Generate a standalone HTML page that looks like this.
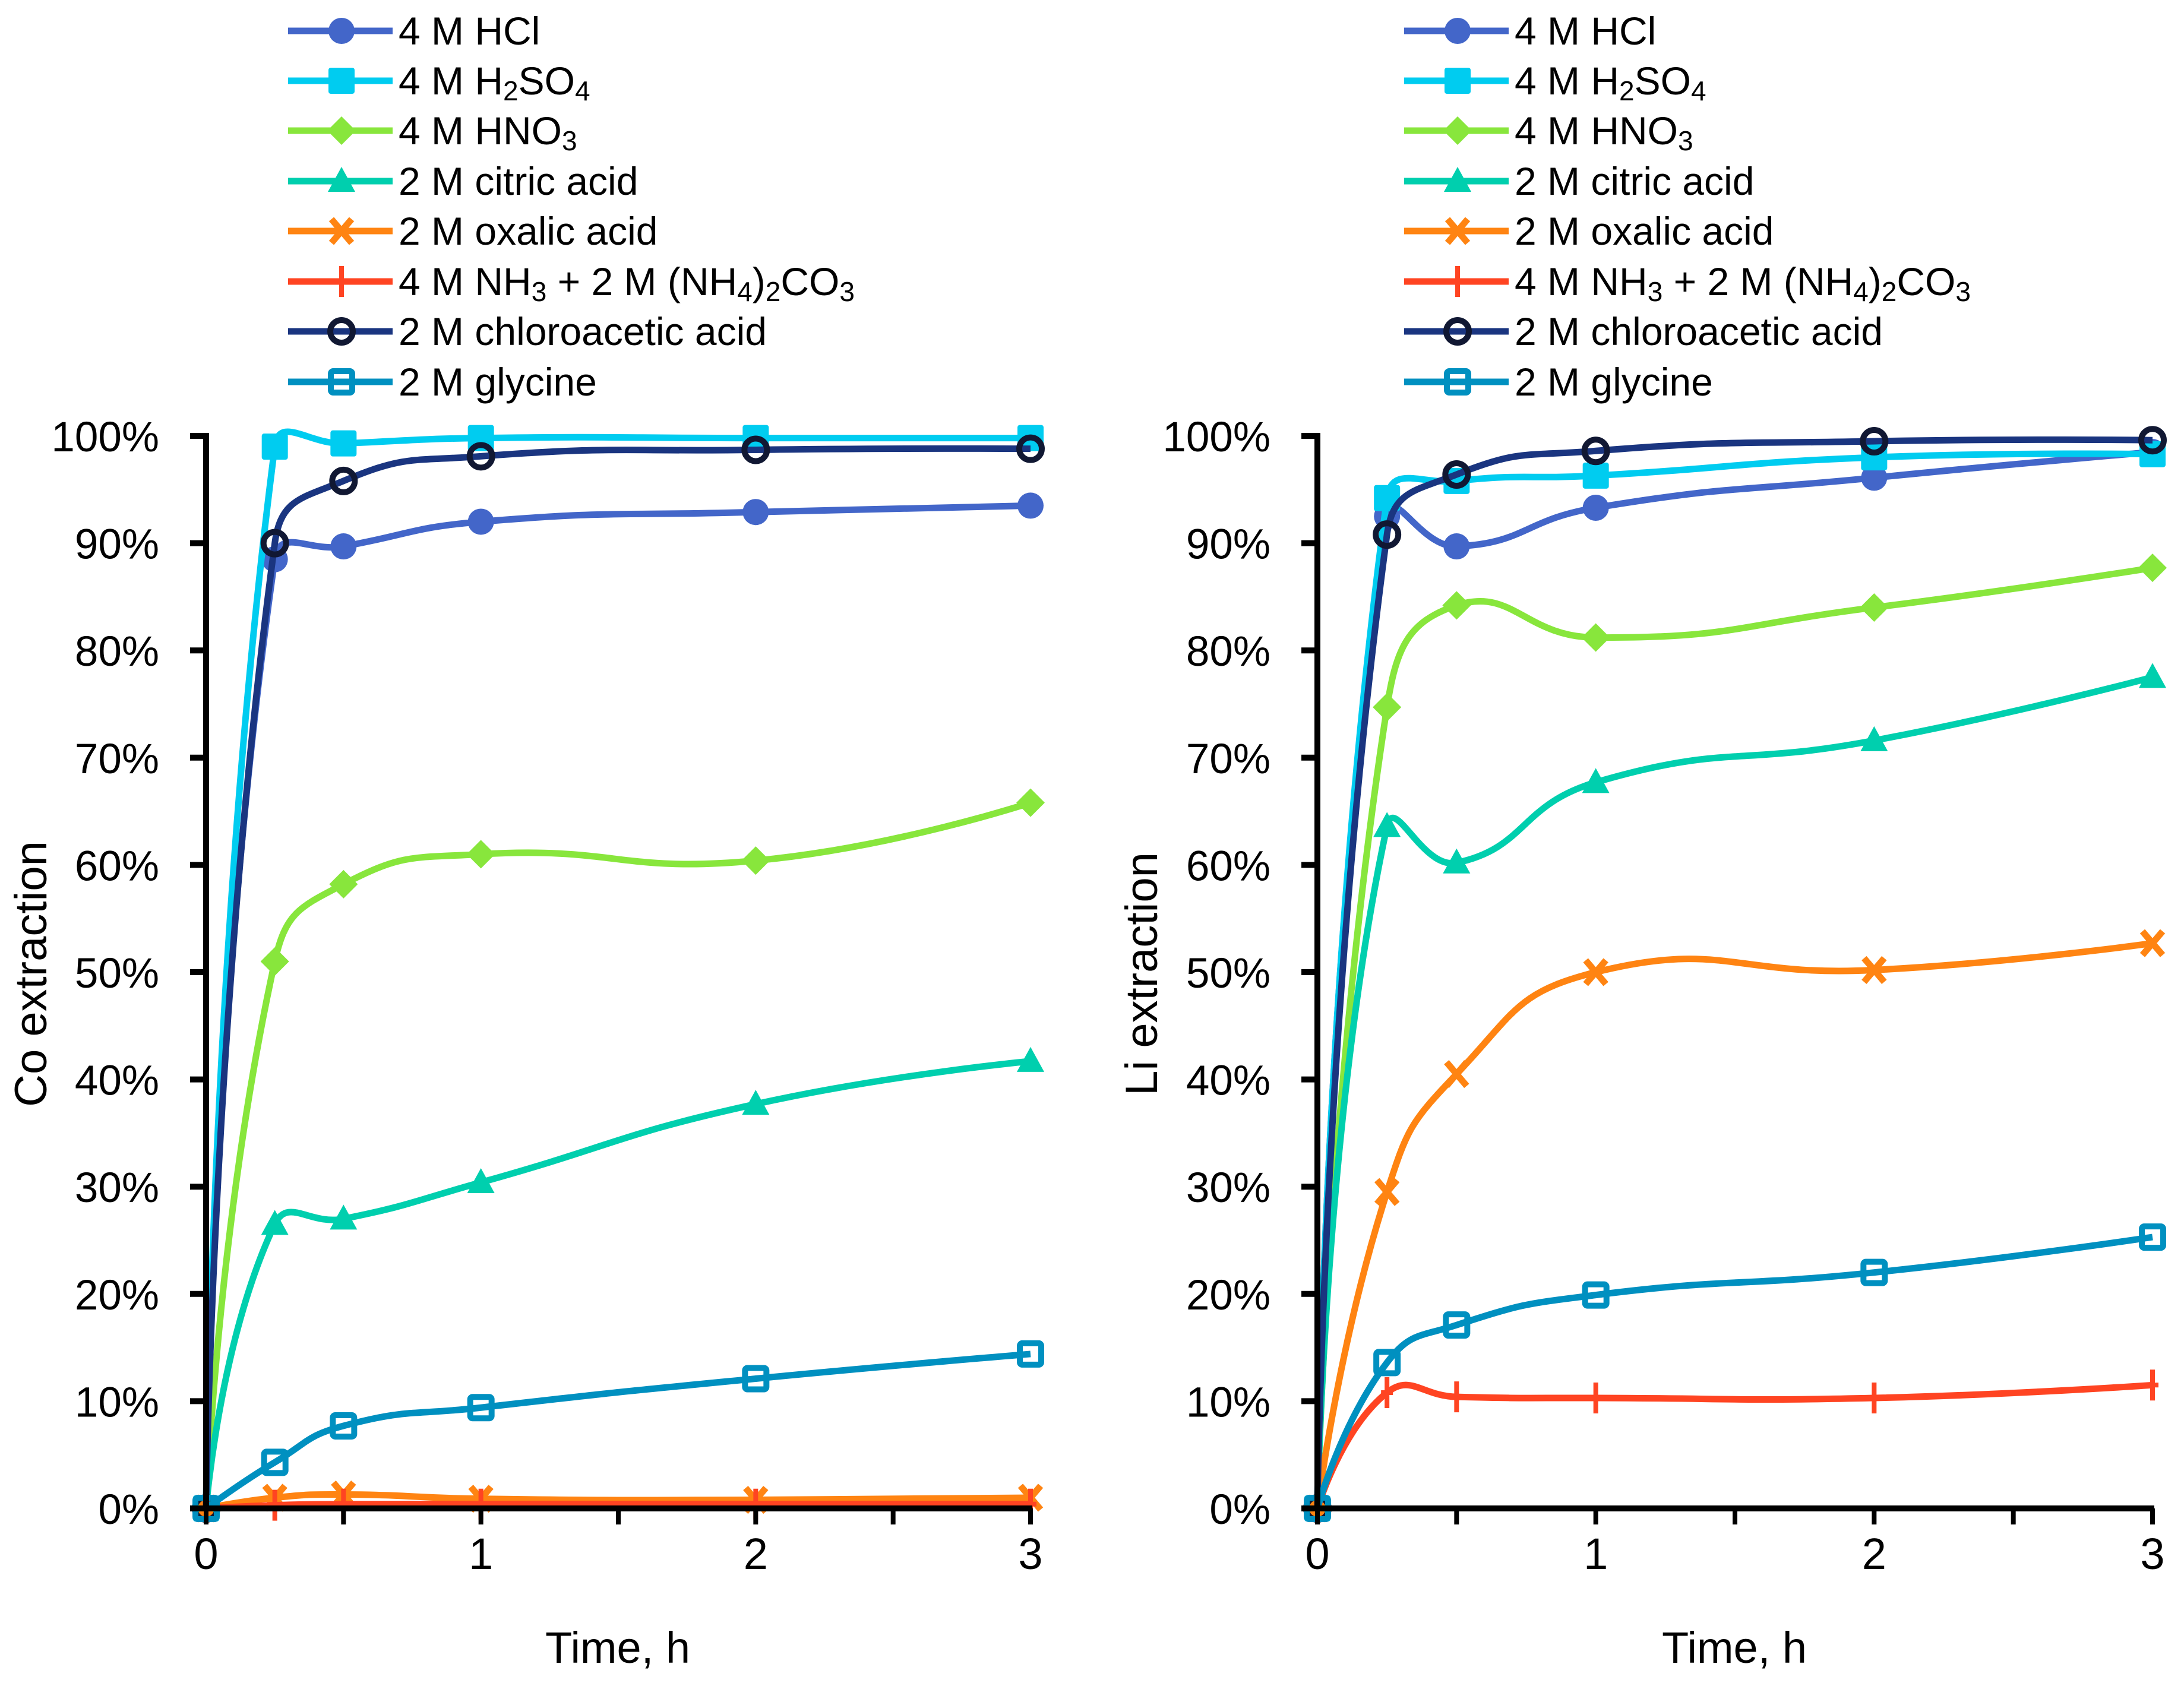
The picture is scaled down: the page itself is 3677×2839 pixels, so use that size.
<!DOCTYPE html>
<html><head><meta charset="utf-8"><style>
html,body{margin:0;padding:0;background:#fff;}
svg{display:block;font-family:"Liberation Sans",sans-serif;}
</style></head><body>
<svg id="chart" width="3677" height="2839" viewBox="0 0 3677 2839" xmlns="http://www.w3.org/2000/svg"></svg>
<script>
const times = [0, 0.25, 0.5, 1, 2, 3];
const seriesNames = ["4 M HCl","4 M H2SO4","4 M HNO3","2 M citric acid","2 M oxalic acid","4 M NH3 + 2 M (NH4)2CO3","2 M chloroacetic acid","2 M glycine"];
const coHCl = [0, 88.5, 89.7, 92.0, 92.9, 93.5];
const coH2SO4 = [0, 99.0, 99.3, 99.8, 99.8, 99.8];
const coHNO3 = [0, 51.0, 58.2, 61.0, 60.4, 65.8];
const coCitric = [0, 26.5, 27.0, 30.4, 37.7, 41.7];
const coOxalic = [0, 1.0, 1.3, 0.9, 0.8, 1.0];
const coNH3 = [0, 0.3, 0.4, 0.4, 0.4, 0.4];
const coChloro = [0, 90.0, 95.8, 98.1, 98.7, 98.8];
const coGlycine = [0, 4.3, 7.7, 9.4, 12.1, 14.4];
const liHCl = [0, 92.5, 89.7, 93.3, 96.1, 98.5];
const liH2SO4 = [0, 94.2, 95.8, 96.3, 98.0, 98.3];
const liHNO3 = [0, 74.7, 84.2, 81.2, 84.0, 87.7];
const liCitric = [0, 63.6, 60.2, 67.7, 71.6, 77.5];
const liOxalic = [0, 29.5, 40.5, 50.0, 50.2, 52.7];
const liNH3 = [0, 10.8, 10.4, 10.3, 10.3, 11.5];
const liChloro = [0, 90.8, 96.4, 98.6, 99.5, 99.6];
const liGlycine = [0, 13.6, 17.1, 19.9, 22.0, 25.3];
const yTicks = [0,10,20,30,40,50,60,70,80,90,100];
const xTicks = [0,1,2,3];
const xMinorTicks = [0.5,1.5,2.5];

const NS = "http://www.w3.org/2000/svg";
const svg = document.getElementById("chart");
function mk(tag, attrs, parent){ const e=document.createElementNS(NS,tag); for(const k in attrs) e.setAttribute(k,attrs[k]); (parent||svg).appendChild(e); return e; }

const styles = [
 {c:"#4366c9", m:"circle"},
 {c:"#00ccf0", m:"square"},
 {c:"#88e63c", m:"diamond"},
 {c:"#00cfae", m:"triangle"},
 {c:"#ff8412", m:"x"},
 {c:"#ff4422", m:"plus"},
 {c:"#1a3580", m:"ring"},
 {c:"#0090c0", m:"hsquare"}
];
const legendLabels = ["4 M HCl","4 M H<tspan font-size='46' dy='10'>2</tspan><tspan dy='-10'>SO</tspan><tspan font-size='46' dy='10'>4</tspan>","4 M HNO<tspan font-size='46' dy='10'>3</tspan>","2 M citric acid","2 M oxalic acid","4 M NH<tspan font-size='46' dy='10'>3</tspan><tspan dy='-10'> + 2 M (NH</tspan><tspan font-size='46' dy='10'>4</tspan><tspan dy='-10'>)</tspan><tspan font-size='46' dy='10'>2</tspan><tspan dy='-10'>CO</tspan><tspan font-size='46' dy='10'>3</tspan>","2 M chloroacetic acid","2 M glycine"];

function marker(g, type, x, y, c){
  let e;
  if(type==="circle") e=mk("circle",{cx:x,cy:y,r:22,fill:c},g);
  else if(type==="square") e=mk("rect",{x:x-22,y:y-22,width:44,height:44,rx:4,fill:c},g);
  else if(type==="diamond") e=mk("polygon",{points:`${x},${y-24} ${x+24},${y} ${x},${y+24} ${x-24},${y}`,fill:c},g);
  else if(type==="triangle") e=mk("polygon",{points:`${x},${y-24} ${x+23},${y+18} ${x-23},${y+18}`,fill:c},g);
  else if(type==="x") e=mk("path",{d:`M${x-17},${y-20}L${x+17},${y+20}M${x+17},${y-20}L${x-17},${y+20}`,stroke:c,"stroke-width":11,fill:"none"},g);
  else if(type==="plus") e=mk("path",{d:`M${x},${y-26}L${x},${y+26}M${x-10},${y}L${x+10},${y}`,stroke:c,"stroke-width":8,fill:"none"},g);
  else if(type==="ring") e=mk("circle",{cx:x,cy:y,r:19,fill:"none",stroke:"#111833","stroke-width":10},g);
  else if(type==="hsquare") e=mk("rect",{x:x-18,y:y-18,width:36,height:36,rx:4,fill:"none",stroke:c,"stroke-width":10},g);
  
  
}

function smoothPath(pts){
  const K=0.5;
  const dist=(a,b)=>Math.hypot(b[0]-a[0],b[1]-a[1]);
  let d=`M${pts[0][0]},${pts[0][1]}`;
  const n=pts.length;
  for(let i=0;i<n-1;i++){
    const p0=pts[Math.max(0,i-1)], p1=pts[i], p2=pts[i+1], p3=pts[Math.min(n-1,i+2)];
    const d01=dist(p0,p1), d12=dist(p1,p2), d23=dist(p2,p3);
    let f1 = (i===0)?0:K*d12/(d01+d12);
    let f2 = (i===n-2)?0:K*d12/(d12+d23);
    const c1=[p1[0]+(p2[0]-p0[0])*f1, p1[1]+(p2[1]-p0[1])*f1];
    const c2=[p2[0]-(p3[0]-p1[0])*f2, p2[1]-(p3[1]-p1[1])*f2];
    d+=`C${c1[0]},${c1[1]} ${c2[0]},${c2[1]} ${p2[0]},${p2[1]}`;
  }
  return d;
}

function panel(opts){
  const {x0,x3,y0,y100,data,title,titleX,xTitleX,legX,name}=opts;
  const g=mk("g",{});
  
  
  const sx=t=>x0+(x3-x0)*t/3, sy=v=>y0+(y100-y0)*v/100;
  const lg=mk("g",{},g);
  
  
  const rows=[52,136,220,305,389,474,558,643];
  styles.forEach((s,i)=>{
    const eg=mk("g",{},lg);
    
    
    mk("line",{x1:legX,y1:rows[i],x2:legX+176,y2:rows[i],stroke:s.c,"stroke-width":11},eg);
    marker(eg,s.m,legX+90,rows[i],s.c);
    const t=mk("text",{x:legX+186,y:rows[i]+23,"font-size":66,fill:"#000"},eg);
    t.innerHTML=legendLabels[i];
  });
  data.forEach((vals,i)=>{
    const s=styles[i];
    const sg=mk("g",{},g);
    
    
    const pts=times.map((t,k)=>[sx(t),sy(vals[k])]);
    const p=mk("path",{d:smoothPath(pts),fill:"none",stroke:s.c,"stroke-width":11,"stroke-linejoin":"round"},sg);
    
    
    pts.forEach(q=>marker(sg,s.m,q[0],q[1],s.c));
  });
  const ax=mk("g",{},g);
  
  
  mk("line",{x1:x0,y1:y100-5,x2:x0,y2:y0+5,stroke:"#000","stroke-width":10},ax);
  mk("line",{x1:x0-5,y1:y0,x2:x3+3,y2:y0,stroke:"#000","stroke-width":10},ax);
  yTicks.forEach(v=>{
    mk("line",{x1:x0-27,y1:sy(v),x2:x0,y2:sy(v),stroke:"#000","stroke-width":10},ax);
    const t=mk("text",{x:x0-79,y:sy(v)+26,"font-size":71,"text-anchor":"end"},ax);
    
    
    t.textContent=v+"%";
  });
  xTicks.concat(xMinorTicks).forEach(v=>{
    mk("line",{x1:sx(v),y1:y0,x2:sx(v),y2:y0+27,stroke:"#000","stroke-width":8},ax);
  });
  xTicks.forEach(v=>{
    const t=mk("text",{x:sx(v),y:y0+102,"font-size":74,"text-anchor":"middle"},ax);
    
    
    t.textContent=v;
  });
  const xt=mk("text",{x:xTitleX,y:2800,"font-size":74,"text-anchor":"middle"},g);
  
  
  xt.textContent="Time, h";
  const yt=mk("text",{x:titleX,y:1640,"font-size":76,"text-anchor":"middle",transform:`rotate(-90 ${titleX} 1640)`},g);
  
  
  yt.textContent=title;
}

panel({name:"co-chart",x0:347,x3:1735,y0:2540,y100:734,title:"Co extraction",titleX:78,xTitleX:1040,legX:485,
  data:[coHCl,coH2SO4,coHNO3,coCitric,coOxalic,coNH3,coChloro,coGlycine]});
panel({name:"li-chart",x0:2218,x3:3624,y0:2540,y100:734,title:"Li extraction",titleX:1948,xTitleX:2920,legX:2364,
  data:[liHCl,liH2SO4,liHNO3,liCitric,liOxalic,liNH3,liChloro,liGlycine]});
</script>
</body></html>
